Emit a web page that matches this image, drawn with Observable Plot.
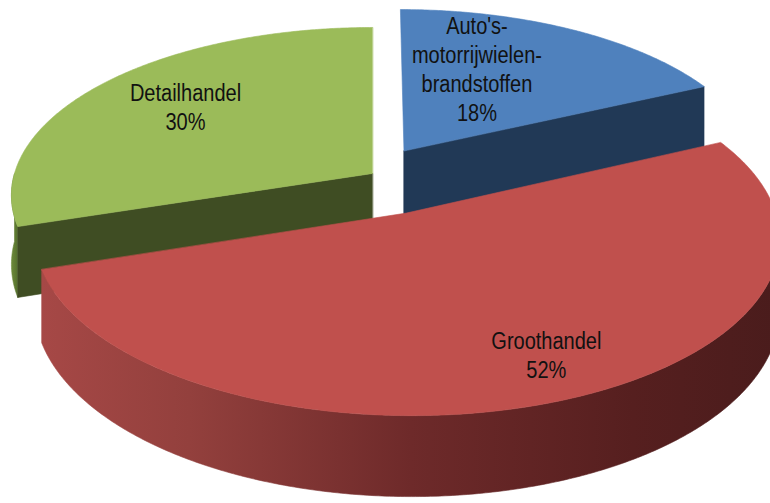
<!DOCTYPE html>
<html><head><meta charset="utf-8">
<script src="https://cdn.jsdelivr.net/npm/d3@7"></script>
<script src="https://cdn.jsdelivr.net/npm/@observablehq/plot@0.6"></script>
<style>html,body{margin:0;padding:0;background:#fff;} #chart{width:770px;height:503px;overflow:hidden;}</style>
</head><body><div id="chart"></div>
<script>
// ---- data ----
const categories = ["Auto's-motorrijwielen-brandstoffen", "Groothandel", "Detailhandel"];
const labelTexts = ["Auto's-\nmotorrijwielen-\nbrandstoffen", "Groothandel", "Detailhandel"];
const shares = [18, 52, 30];

// ---- styling / layout ----
const topColors = ["#4f81bd", "#c0504d", "#9bbb59"];
const cutColors = ["#213956", "#5e2220", "#3f4d23"];
const sideFills = ["url(#sideBlue)", "url(#sideRed)", "url(#sideGreen)"];
const explode = [0.167, 0.25, 0];          // explosion as fraction of radius
const labelRadius = [0.6, 0.8, 0.7];
const labelTurn = [-10, -3, 2];            // degrees
const drawOrder = [2, 0, 1];               // back to front
const k = 0.13, h = 0.412;                 // perspective and depth
const cx = 372, A = 358, cy = 173, B = 165;

function proj(X, Y, z) {
  const w = 1 - k * Y;
  return {u: X / w, v: (Y + h * z) / w};
}

const arcs = d3.pie().sort(null).value(d => d)(shares);
const polys = [];
const labels = [];
let pid = 0;
const deg = Math.PI / 180;

function addPoly(pts, fill) {
  const id = pid++;
  for (const p of pts) polys.push({id, u: p.u, v: p.v, fill});
}

for (const i of drawOrder) {
  const a0 = arcs[i].startAngle, a1 = arcs[i].endAngle, mid = (a0 + a1) / 2;
  const dx = explode[i] * Math.sin(mid), dy = -explode[i] * Math.cos(mid);
  const rim = (t, z) => proj(dx + Math.sin(t), dy - Math.cos(t), z);
  const apex = z => proj(dx, dy, z);
  // outer side, front-facing part only
  const s0 = Math.max(a0, 90 * deg), s1 = Math.min(a1, 270 * deg);
  if (s1 > s0) {
    const n = Math.max(2, Math.ceil((s1 - s0) / (0.5 * deg)));
    const upper = [], lower = [];
    for (let j = 0; j <= n; j++) {
      const t = s0 + (s1 - s0) * j / n;
      upper.push(rim(t, 0));
      lower.push(rim(t, 1));
    }
    addPoly(upper.concat(lower.reverse()), sideFills[i]);
  }
  // radial cut faces facing viewer
  if (Math.cos(a0 - Math.PI / 2) < -0.01) addPoly([apex(0), rim(a0, 0), rim(a0, 1), apex(1)], cutColors[i]);
  if (Math.cos(a1 + Math.PI / 2) < -0.01) addPoly([apex(0), rim(a1, 0), rim(a1, 1), apex(1)], cutColors[i]);
  // top face
  const top = [apex(0)];
  const m = Math.ceil((a1 - a0) / (0.5 * deg));
  for (let j = 0; j <= m; j++) top.push(rim(a0 + (a1 - a0) * j / m, 0));
  addPoly(top, topColors[i]);
  // label
  const la = mid + labelTurn[i] * deg, r = labelRadius[i];
  const lp = proj(dx + r * Math.sin(la), dy - r * Math.cos(la), 0);
  labels.push({u: lp.u, v: lp.v, text: labelTexts[i] + "\n" + shares[i] + "%"});
}

const chart = Plot.plot({
  width: 770, height: 503, margin: 0,
  x: {domain: [-1, 1], range: [cx - A, cx + A], axis: null},
  y: {domain: [-1, 1], range: [cy - B, cy + B], axis: null},
  color: {type: "identity"},
  marks: [
    Plot.line(polys, {x: "u", y: "v", z: "id", fill: "fill", stroke: "fill", strokeWidth: 0.6, curve: "linear-closed"}),
    Plot.text(labels, {x: "u", y: "v", text: "text", fontSize: 23, lineHeight: 1.27,
      fontFamily: "'Liberation Sans', Arial, sans-serif", fill: "#111"})
  ]
});
document.getElementById("chart").appendChild(chart);

// gradients for the shaded outer sides
const svg = chart.tagName.toLowerCase() === "svg" ? chart : chart.querySelector("svg");
const ns = "http://www.w3.org/2000/svg";
const defs = document.createElementNS(ns, "defs");
defs.innerHTML =
  '<linearGradient id="sideRed" x1="0" y1="0" x2="1" y2="0">' +
  '<stop offset="0" stop-color="#a64846"/><stop offset="0.2" stop-color="#93403d"/>' +
  '<stop offset="0.5" stop-color="#6e2a2a"/><stop offset="0.8" stop-color="#561f1f"/>' +
  '<stop offset="1" stop-color="#4a1c1c"/></linearGradient>' +
  '<linearGradient id="sideGreen" x1="0" y1="0" x2="1" y2="0">' +
  '<stop offset="0" stop-color="#6d8a3a"/><stop offset="1" stop-color="#55702d"/></linearGradient>' +
  '<linearGradient id="sideBlue" x1="0" y1="0" x2="1" y2="0">' +
  '<stop offset="0" stop-color="#2c4770"/><stop offset="1" stop-color="#22385a"/></linearGradient>';
svg.insertBefore(defs, svg.firstChild);

// narrow the label glyphs (Arial Narrow look)
svg.querySelectorAll('g[aria-label="text"] text').forEach(t => {
  let tr = t.getAttribute("transform") || "";
  const x = t.getAttribute("x"), y = t.getAttribute("y");
  if (x !== null || y !== null) {
    tr = `translate(${x || 0},${y || 0}) ` + tr;
    t.removeAttribute("x"); t.removeAttribute("y");
    t.querySelectorAll("tspan").forEach(s => { if (s.getAttribute("x") !== null) s.setAttribute("x", 0); });
  }
  t.setAttribute("transform", tr + " scale(0.87,1)");
});
</script>
</body></html>
